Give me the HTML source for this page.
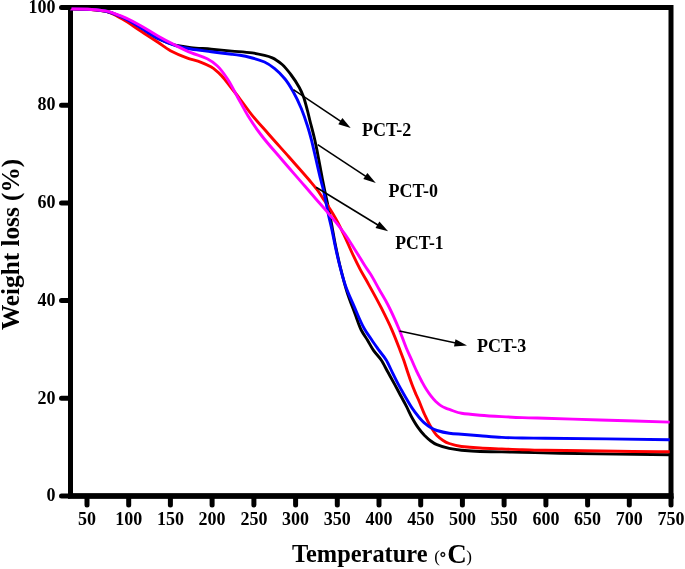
<!DOCTYPE html>
<html lang="en">
<head>
<meta charset="utf-8">
<title>TGA curves</title>
<style>
html,body{margin:0;padding:0;background:#fff;}
body{width:685px;height:569px;overflow:hidden;}
</style>
</head>
<body>
<svg width="685" height="569" viewBox="0 0 685 569" style="display:block" font-family="'Liberation Serif', 'Times New Roman', serif" font-weight="bold" fill="#000">
<rect width="685" height="569" fill="#fff"/>
<rect x="70.5" y="7.5" width="600.5" height="488.5" fill="none" stroke="#000" stroke-width="5.0" stroke-linejoin="miter"/>
<g fill="none" stroke-linejoin="round" stroke-linecap="butt">
<path d="M70.0 8.9C75.9 8.9 81.7 9.0 87.6 9.2C93.4 9.4 99.2 10.1 105.0 11.0C110.9 12.0 116.8 14.9 122.7 17.5C128.6 20.1 134.4 24.0 140.3 27.5C146.2 31.0 152.0 35.7 157.9 38.5C164.1 41.4 170.4 44.2 176.6 45.5C181.4 46.5 186.1 47.1 190.9 47.6C197.7 48.3 204.5 48.6 211.3 49.2C218.1 49.8 225.0 50.5 231.8 51.1C238.6 51.7 245.4 52.0 252.2 52.9C256.3 53.4 260.4 54.4 264.5 55.4C267.1 56.0 269.7 56.7 272.3 57.8C275.6 59.2 278.9 61.7 282.2 64.5C285.1 67.0 287.9 70.7 290.8 74.5C293.6 78.2 296.5 82.3 299.3 87.5C300.7 90.0 302.0 92.8 303.4 96.5C304.7 100.0 306.0 105.1 307.3 110.0C308.4 114.0 309.4 118.8 310.5 123.0C311.9 128.4 313.2 133.1 314.6 139.0C315.4 142.5 316.2 146.4 317.0 150.4C318.3 156.9 319.6 164.0 320.9 170.9C321.5 173.9 322.0 177.1 322.6 180.0C323.3 183.6 324.0 187.1 324.7 190.5C325.5 194.2 326.2 197.5 327.0 201.1C327.7 204.5 328.5 207.9 329.2 211.6C330.2 216.6 331.2 222.1 332.2 227.5C333.3 233.6 334.5 240.4 335.6 246.0C337.1 253.3 338.5 260.0 340.0 266.0C342.3 275.3 344.5 284.1 346.8 291.3C349.5 300.0 352.3 306.5 355.0 313.8C357.1 319.3 359.1 325.9 361.2 330.0C363.3 334.1 365.3 336.6 367.4 340.0C369.4 343.4 371.5 347.5 373.5 350.4C376.1 354.1 378.6 356.2 381.2 360.0C383.5 363.4 385.7 368.2 388.0 372.3C390.3 376.4 392.5 380.4 394.8 384.6C396.6 388.0 398.5 391.6 400.3 395.0C402.3 398.7 404.2 402.1 406.2 405.9C408.2 409.8 410.3 414.6 412.3 418.2C414.4 421.9 416.4 425.3 418.5 428.1C420.5 430.9 422.6 433.4 424.6 435.5C426.7 437.6 428.7 439.5 430.8 441.0C432.8 442.5 434.9 443.9 436.9 444.7C441.0 446.4 445.1 447.6 449.2 448.4C453.3 449.2 457.4 449.8 461.5 450.2C467.7 450.8 473.8 451.3 480.0 451.5C487.3 451.7 494.5 451.8 501.8 451.9C508.6 452.0 515.4 452.2 522.2 452.3C534.8 452.6 547.4 453.0 560.0 453.2C596.6 453.9 633.1 454.5 669.7 454.8" stroke="#000000" stroke-width="2.9"/>
<path d="M70.0 8.9C75.9 8.9 81.7 9.0 87.6 9.2C93.4 9.4 99.2 10.1 105.0 11.2C110.9 12.3 116.8 16.1 122.7 19.3C128.6 22.5 134.4 27.0 140.3 30.8C146.2 34.6 152.0 38.3 157.9 42.2C162.1 45.0 166.2 48.5 170.4 50.7C175.9 53.6 181.3 55.8 186.8 57.8C191.6 59.5 196.3 60.5 201.1 62.3C204.5 63.6 207.9 65.0 211.3 67.0C214.7 69.0 218.1 72.2 221.5 75.6C224.9 79.1 228.4 84.2 231.8 88.5C234.5 92.0 237.3 95.4 240.0 99.0C244.1 104.3 248.1 110.3 252.2 115.3C257.6 122.0 263.1 127.8 268.5 134.0C275.3 141.8 282.2 149.3 289.0 157.0C295.7 164.6 302.5 172.0 309.2 180.0C312.0 183.4 314.9 186.6 317.7 190.5C319.8 193.4 321.9 196.8 324.0 200.0C326.1 203.2 328.2 206.2 330.3 209.5C332.4 212.8 334.5 216.3 336.6 220.1C339.1 224.6 341.5 229.7 344.0 234.9C346.6 240.4 349.3 246.9 351.9 252.5C354.7 258.5 357.5 264.3 360.3 269.6C362.1 273.0 364.0 276.0 365.8 279.3C370.9 288.5 376.1 297.6 381.2 307.7C384.8 314.8 388.4 321.9 392.0 330.1C394.7 336.3 397.4 343.4 400.1 350.4C401.3 353.5 402.5 356.6 403.7 360.0C405.0 363.8 406.4 368.3 407.7 372.3C409.1 376.6 410.6 380.8 412.0 384.6C413.4 388.4 414.9 391.7 416.3 395.0C417.0 396.7 417.8 398.1 418.5 399.8C420.5 404.4 422.6 410.1 424.6 414.5C426.7 419.0 428.7 423.4 430.8 426.8C432.8 430.2 434.9 433.4 436.9 435.5C439.0 437.6 441.0 439.1 443.1 440.4C445.1 441.7 447.2 442.8 449.2 443.5C453.3 444.9 457.4 446.0 461.5 446.5C467.7 447.3 473.8 447.7 480.0 448.0C487.3 448.4 494.5 448.6 501.8 448.9C508.6 449.2 515.4 449.5 522.2 449.7C529.8 449.9 537.4 450.2 545.0 450.3C586.6 451.0 628.1 451.7 669.7 451.7" stroke="#ff0000" stroke-width="2.9"/>
<path d="M70.0 8.9C75.9 8.9 81.7 9.0 87.6 9.2C93.4 9.4 99.2 10.1 105.0 11.0C110.9 12.0 116.8 14.9 122.7 17.5C128.6 20.1 134.4 24.0 140.3 27.5C146.2 31.0 152.0 35.6 157.9 38.5C163.7 41.3 169.6 43.8 175.4 45.5C180.6 47.0 185.7 48.1 190.9 49.0C197.7 50.1 204.5 50.8 211.3 51.7C218.1 52.6 225.0 53.5 231.8 54.3C234.5 54.6 237.3 54.9 240.0 55.3C244.1 55.9 248.2 56.9 252.3 58.0C256.4 59.1 260.4 60.2 264.5 62.0C267.9 63.5 271.3 65.9 274.7 68.6C278.1 71.3 281.6 74.8 285.0 79.0C287.7 82.3 290.4 86.7 293.1 91.5C295.8 96.3 298.6 101.9 301.3 108.5C303.3 113.4 305.4 119.4 307.4 125.8C308.8 130.1 310.1 134.8 311.5 140.1C312.7 144.9 314.0 150.7 315.2 156.0C317.1 164.0 318.9 172.4 320.8 180.0C321.7 183.6 322.6 186.6 323.5 190.5C324.4 194.3 325.2 199.0 326.1 203.2C327.0 207.4 327.8 211.9 328.7 215.9C329.6 220.0 330.5 223.4 331.4 227.5C332.3 231.4 333.1 235.8 334.0 240.0C334.4 242.1 334.9 244.4 335.3 246.4C336.7 252.9 338.1 259.2 339.5 264.7C341.4 272.3 343.4 279.6 345.3 285.2C348.1 293.4 351.0 299.1 353.8 305.6C357.3 313.6 360.7 322.4 364.2 328.5C366.6 332.8 369.1 335.9 371.5 339.5C373.8 343.0 376.2 346.4 378.5 349.7C381.1 353.3 383.6 355.8 386.2 360.0C388.2 363.3 390.3 368.2 392.3 372.3C394.4 376.4 396.4 380.7 398.5 384.6C400.4 388.2 402.4 391.6 404.3 395.0C407.0 399.6 409.6 404.5 412.3 408.4C414.3 411.4 416.4 414.1 418.4 416.5C420.5 419.0 422.5 421.4 424.6 423.2C426.6 424.9 428.5 426.4 430.5 427.5C432.6 428.7 434.8 429.8 436.9 430.5C441.0 431.8 445.1 432.7 449.2 433.2C453.3 433.7 457.4 433.9 461.5 434.2C467.7 434.7 473.8 435.2 480.0 435.7C487.3 436.3 494.5 437.1 501.8 437.4C508.6 437.7 515.4 437.9 522.2 438.0C529.8 438.1 537.4 438.1 545.0 438.2C586.6 438.6 628.1 439.1 669.7 439.7" stroke="#0000ff" stroke-width="2.9"/>
<path d="M70.0 8.9C75.9 8.9 81.7 9.0 87.6 9.2C93.4 9.4 99.2 10.0 105.0 10.9C110.9 11.8 116.8 14.4 122.7 16.7C128.6 19.0 134.4 22.3 140.3 25.5C146.2 28.7 152.0 32.7 157.9 36.0C163.7 39.3 169.6 42.4 175.4 45.3C180.6 47.9 185.7 50.5 190.9 52.7C196.3 55.0 201.8 56.1 207.2 58.8C210.6 60.5 214.0 62.9 217.4 66.0C220.8 69.1 224.3 74.1 227.7 79.3C231.1 84.4 234.5 91.6 237.9 97.7C241.3 103.8 244.7 110.5 248.1 116.0C252.2 122.6 256.3 128.6 260.4 134.0C267.2 143.1 274.1 150.5 280.9 158.5C288.9 167.9 297.0 177.0 305.0 186.3C308.5 190.4 312.0 194.5 315.5 198.5C319.0 202.6 322.6 206.5 326.1 210.6C329.6 214.7 333.1 218.8 336.6 223.2C340.1 227.7 343.7 232.3 347.2 237.5C348.8 239.8 350.4 242.5 352.0 245.0C353.9 248.0 355.9 251.1 357.8 254.2C360.1 257.8 362.3 261.8 364.6 265.3C366.7 268.5 368.7 271.2 370.8 274.5C373.7 279.2 376.6 284.9 379.5 290.0C382.3 295.0 385.2 299.5 388.0 305.0C391.7 312.2 395.4 320.4 399.1 329.2C401.5 334.9 403.9 342.3 406.3 348.0C408.1 352.3 409.9 355.9 411.7 360.0C413.2 363.5 414.8 367.2 416.3 370.5C417.1 372.1 417.8 373.7 418.6 375.2C419.8 377.7 421.1 380.1 422.3 382.4C423.7 385.0 425.2 387.6 426.6 389.8C428.0 392.0 429.5 394.1 430.9 395.9C432.5 398.0 434.2 399.9 435.8 401.5C437.5 403.1 439.1 404.5 440.8 405.6C442.4 406.7 444.1 407.5 445.7 408.2C447.1 408.8 448.6 409.2 450.0 409.7C453.8 411.0 457.7 412.7 461.5 413.3C467.7 414.3 473.8 414.7 480.0 415.2C487.3 415.8 494.5 416.2 501.8 416.6C508.6 417.0 515.4 417.4 522.2 417.6C529.8 417.9 537.4 418.0 545.0 418.2C563.3 418.7 581.7 419.4 600.0 420.0C623.2 420.7 646.5 421.4 669.7 422.1" stroke="#ff00ff" stroke-width="2.9"/>
</g>
<line x1="68.0" y1="496.0" x2="673.5" y2="496.0" stroke="#000" stroke-width="5.6"/>
<g stroke="#000" stroke-width="5.0" stroke-linecap="round">
<line x1="61.5" y1="496.0" x2="69.0" y2="496.0"/>
<line x1="61.5" y1="398.3" x2="69.0" y2="398.3"/>
<line x1="61.5" y1="300.6" x2="69.0" y2="300.6"/>
<line x1="61.5" y1="202.9" x2="69.0" y2="202.9"/>
<line x1="61.5" y1="105.2" x2="69.0" y2="105.2"/>
<line x1="61.5" y1="7.5" x2="69.0" y2="7.5"/>
<line x1="87.0" y1="497.5" x2="87.0" y2="505.0"/>
<line x1="128.7" y1="497.5" x2="128.7" y2="505.0"/>
<line x1="170.4" y1="497.5" x2="170.4" y2="505.0"/>
<line x1="212.1" y1="497.5" x2="212.1" y2="505.0"/>
<line x1="253.9" y1="497.5" x2="253.9" y2="505.0"/>
<line x1="295.6" y1="497.5" x2="295.6" y2="505.0"/>
<line x1="337.3" y1="497.5" x2="337.3" y2="505.0"/>
<line x1="379.0" y1="497.5" x2="379.0" y2="505.0"/>
<line x1="420.7" y1="497.5" x2="420.7" y2="505.0"/>
<line x1="462.4" y1="497.5" x2="462.4" y2="505.0"/>
<line x1="504.1" y1="497.5" x2="504.1" y2="505.0"/>
<line x1="545.9" y1="497.5" x2="545.9" y2="505.0"/>
<line x1="587.6" y1="497.5" x2="587.6" y2="505.0"/>
<line x1="629.3" y1="497.5" x2="629.3" y2="505.0"/>
<line x1="671.0" y1="497.5" x2="671.0" y2="505.0"/>
</g>
<g font-size="18">
<text x="55.5" y="501.2" text-anchor="end">0</text>
<text x="55.5" y="403.5" text-anchor="end">20</text>
<text x="55.5" y="305.8" text-anchor="end">40</text>
<text x="55.5" y="208.1" text-anchor="end">60</text>
<text x="55.5" y="110.4" text-anchor="end">80</text>
<text x="55.5" y="12.7" text-anchor="end">100</text>
<text x="87.0" y="524.5" text-anchor="middle">50</text>
<text x="128.7" y="524.5" text-anchor="middle">100</text>
<text x="170.4" y="524.5" text-anchor="middle">150</text>
<text x="212.1" y="524.5" text-anchor="middle">200</text>
<text x="253.9" y="524.5" text-anchor="middle">250</text>
<text x="295.6" y="524.5" text-anchor="middle">300</text>
<text x="337.3" y="524.5" text-anchor="middle">350</text>
<text x="379.0" y="524.5" text-anchor="middle">400</text>
<text x="420.7" y="524.5" text-anchor="middle">450</text>
<text x="462.4" y="524.5" text-anchor="middle">500</text>
<text x="504.1" y="524.5" text-anchor="middle">550</text>
<text x="545.9" y="524.5" text-anchor="middle">600</text>
<text x="587.6" y="524.5" text-anchor="middle">650</text>
<text x="629.3" y="524.5" text-anchor="middle">700</text>
<text x="671.0" y="524.5" text-anchor="middle">750</text>
</g>
<text font-size="24.4"><tspan x="292" y="561.5">Temperature</tspan><tspan x="434.2" y="561.7" font-size="17" font-weight="normal">(</tspan><tspan x="440.1" y="561.7" font-size="14.5" font-weight="bold" stroke="#000" stroke-width="0.5">°</tspan><tspan x="447.2" y="562.7" font-size="27">C</tspan><tspan x="466.2" y="561.7" font-size="17" font-weight="normal">)</tspan></text>
<text transform="translate(19 330.1) rotate(-90)" font-size="25.5" textLength="171.3" lengthAdjust="spacingAndGlyphs">Weight loss (%)</text>
<line x1="293.4" y1="89.6" x2="341.2" y2="121.7" stroke="#000" stroke-width="1.6"/><polygon points="350.7,128.1 338.3,124.2 342.4,118.1" fill="#000"/>
<line x1="317.7" y1="144.7" x2="366.2" y2="176.6" stroke="#000" stroke-width="1.6"/><polygon points="375.8,182.9 363.3,179.1 367.4,172.9" fill="#000"/>
<line x1="316.1" y1="187.3" x2="378.3" y2="225.3" stroke="#000" stroke-width="1.6"/><polygon points="388.1,231.3 375.5,227.9 379.4,221.6" fill="#000"/>
<line x1="399.5" y1="331.0" x2="455.8" y2="343.0" stroke="#000" stroke-width="1.6"/><polygon points="467.0,345.4 454.0,346.4 455.5,339.2" fill="#000"/>
<g font-size="18">
<text x="362.0" y="136.3" textLength="49.3" lengthAdjust="spacingAndGlyphs">PCT-2</text>
<text x="388.6" y="196.6" textLength="49.3" lengthAdjust="spacingAndGlyphs">PCT-0</text>
<text x="395.3" y="249.1" textLength="48.3" lengthAdjust="spacingAndGlyphs">PCT-1</text>
<text x="477.0" y="351.8" textLength="49.3" lengthAdjust="spacingAndGlyphs">PCT-3</text>
</g>
</svg>
</body>
</html>
